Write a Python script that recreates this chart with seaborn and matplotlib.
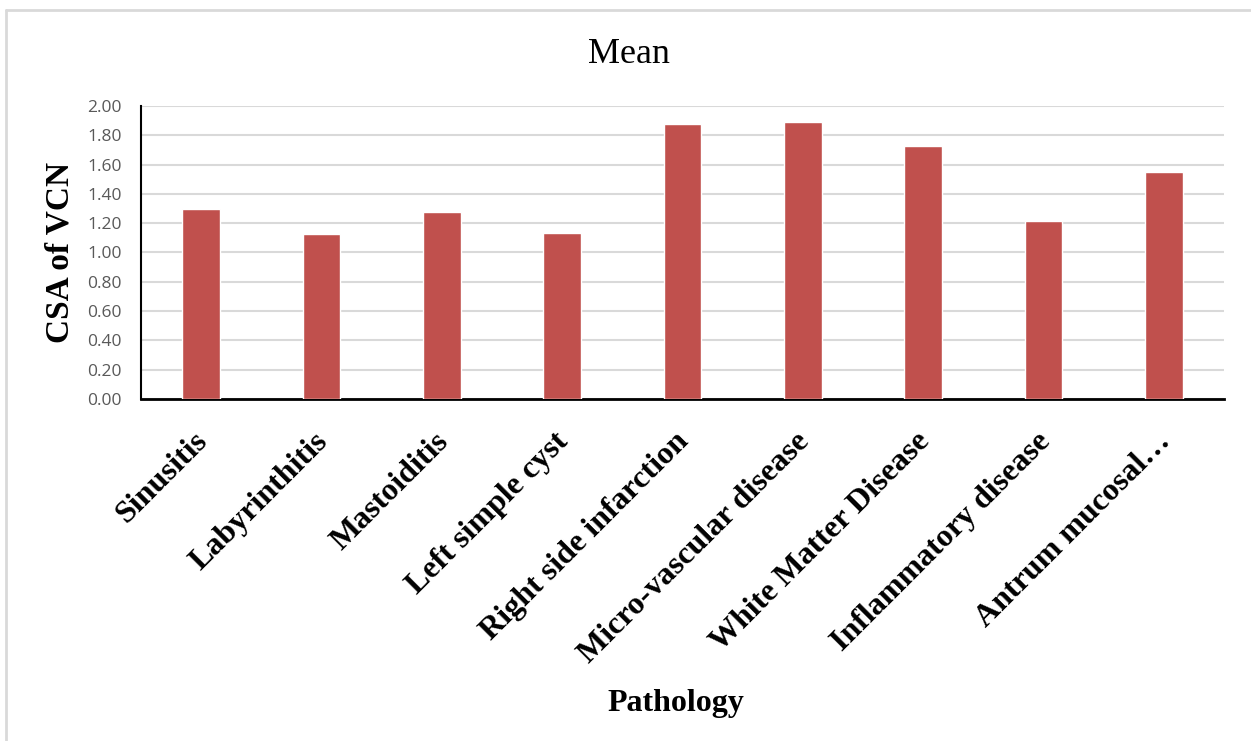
import matplotlib
matplotlib.use("Agg")
import matplotlib.pyplot as plt
import matplotlib.transforms as mtransforms
import seaborn as sns
from matplotlib.lines import Line2D

# Mean cross-sectional area of the vestibulocochlear nerve per pathology
pathologies = [
    "Sinusitis",
    "Labyrinthitis",
    "Mastoiditis",
    "Left simple cyst",
    "Right side infarction",
    "Micro-vascular disease",
    "White Matter Disease",
    "Inflammatory disease",
    "Antrum mucosal…",
]
mean_csa = [1.30, 1.125, 1.275, 1.135, 1.88, 1.89, 1.73, 1.215, 1.55]
y_ticks = [0.0, 0.2, 0.4, 0.6, 0.8, 1.0, 1.2, 1.4, 1.6, 1.8, 2.0]

sns.set_theme(style="white")
serif = ["Liberation Serif", "DejaVu Serif"]
sans = ["Open Sans", "DejaVu Sans"]

fig = plt.figure(figsize=(12.51, 7.41), dpi=100)
ax = fig.add_axes([0.1127, 0.4615, 0.8657, 0.3955])

sns.barplot(x=pathologies, y=mean_csa, color="#C0504D", saturation=1,
            width=0.315, ax=ax, zorder=3)

ax.set_xlim(-0.5, len(pathologies) - 0.5)
ax.set_ylim(0, 2.0)
ax.set_yticks(y_ticks)
ax.set_yticklabels([f"{v:.2f}" for v in y_ticks], family=sans,
                   fontsize=12.5, color="#595959")
ax.yaxis.grid(True, color="#d9d9d9", linewidth=1.5, zorder=0)
ax.xaxis.grid(False)
ax.tick_params(axis="y", length=0, pad=14)
ax.tick_params(axis="x", length=0, pad=20)

ax.set_xticks(range(len(pathologies)))
ax.set_xticklabels(pathologies, rotation=45, ha="right", va="top",
                   rotation_mode="anchor", family=serif,
                   fontweight="bold", fontsize=23, color="black")
shift = mtransforms.ScaledTranslation(-8 / 100, 0, fig.dpi_scale_trans)
for lbl in ax.get_xticklabels():
    lbl.set_transform(lbl.get_transform() + shift)

for side in ("top", "right"):
    ax.spines[side].set_visible(False)
ax.spines["left"].set_color("black")
ax.spines["left"].set_linewidth(1.5)
ax.spines["bottom"].set_color("black")
ax.spines["bottom"].set_linewidth(2)

ax.set_xlabel("")
ax.set_ylabel("CSA of VCN", family=serif, fontweight="bold",
              fontsize=24, color="black", labelpad=8)

fig.text(0.5025, 0.927, "Mean", ha="center", va="center",
         family=serif, fontsize=26, color="black")
fig.text(0.5405, 0.051, "Pathology", ha="center", va="center",
         family=serif, fontweight="bold", fontsize=23, color="black")

# chart frame (left and top edges)
fig.add_artist(Line2D([0.0044, 0.0044], [0.0, 0.987], color="#d9d9d9",
                      linewidth=2, transform=fig.transFigure))
fig.add_artist(Line2D([0.0044, 1.0], [0.987, 0.987], color="#d9d9d9",
                      linewidth=2, transform=fig.transFigure))

fig.savefig("out.png", dpi=100, facecolor="white")
